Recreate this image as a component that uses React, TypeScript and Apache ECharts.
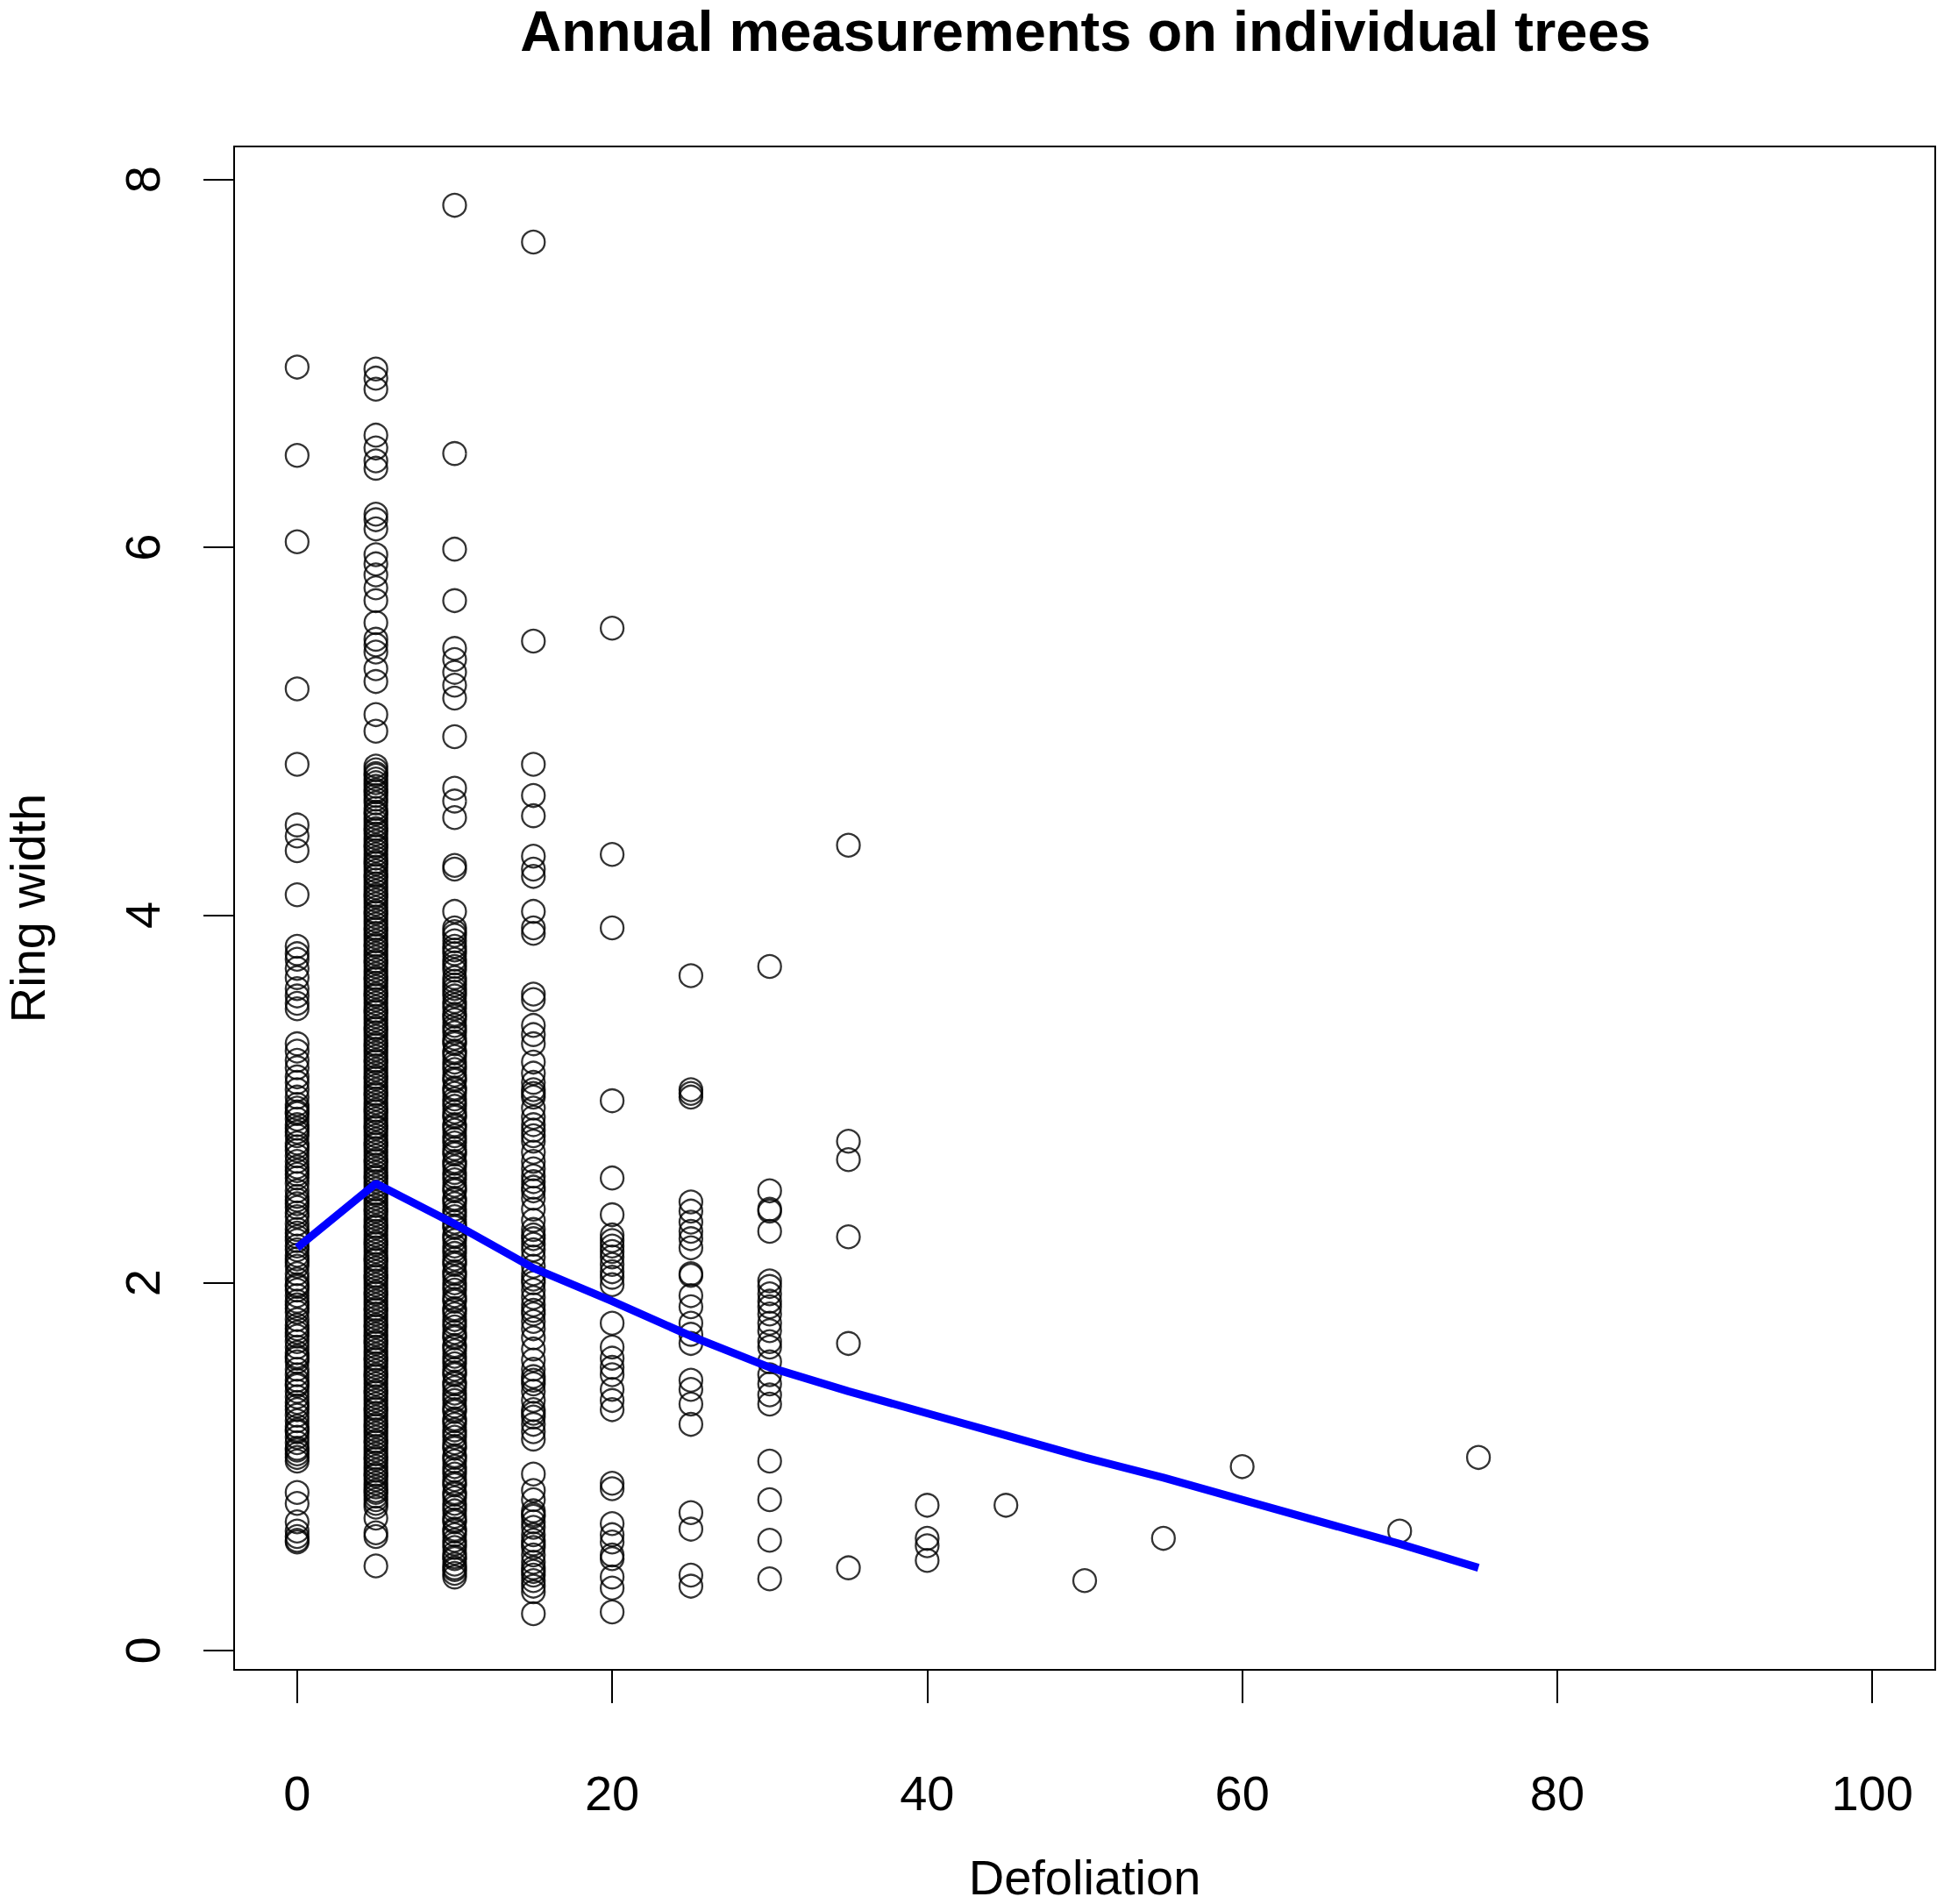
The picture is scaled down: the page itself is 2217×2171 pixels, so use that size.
import React, { useEffect, useRef } from "react";
import * as echarts from "echarts";

// Defoliation levels (x) and ring widths observed at each level (y)
const defoliationLevels = [0, 5, 10, 15, 20, 25, 30, 35, 40, 45, 50, 55, 60, 70, 75];

const ring0 = [6.98, 6.50, 6.03, 5.23, 4.82, 4.49, 4.43, 4.35, 4.11, 3.83, 3.79, 3.76, 3.71, 3.66, 3.60, 3.56, 3.52, 3.49,
  3.30, 3.26, 3.21, 3.17, 3.12, 3.09, 3.05, 3.01, 2.97, 2.95, 2.92, 2.89, 2.86, 2.82, 2.80, 2.76, 2.72, 2.69, 2.66, 2.63,
  2.61, 2.57, 2.54, 2.50, 2.47, 2.45, 2.41, 2.38, 2.36, 2.32, 2.29, 2.27, 2.23, 2.20, 2.18, 2.15, 2.11, 2.09, 2.05, 2.02,
  1.99, 1.96, 1.93, 1.90, 1.86, 1.84, 1.80, 1.77, 1.75, 1.71, 1.68, 1.65, 1.62, 1.59, 1.57, 1.53, 1.50, 1.47, 1.44, 1.41,
  1.38, 1.35, 1.31, 1.28, 1.25, 1.22, 1.19, 1.16, 1.13, 1.10, 1.07, 1.05, 1.03, 0.86, 0.80, 0.70, 0.65, 0.62, 0.60, 0.59,
  2.93, 2.84, 2.74, 2.59, 2.43, 2.25, 2.13, 1.98, 1.88, 1.73, 1.60, 1.45, 1.33, 1.20, 1.09];

const ring5 = [6.97, 6.92, 6.86, 6.61, 6.54, 6.47, 6.43, 6.18, 6.15, 6.10, 5.96, 5.91, 5.85, 5.78, 5.71, 5.59, 5.50, 5.47,
  5.43, 5.34, 5.27, 5.09, 5.00,
  4.81, 4.77, 4.76, 4.72, 4.68, 4.67, 4.63, 4.58, 4.56, 4.53, 4.49, 4.47, 4.44, 4.40, 4.38, 4.35, 4.31, 4.29, 4.26, 4.22,
  4.21, 4.17, 4.13, 4.11, 4.08, 4.04, 4.02, 3.99, 3.95, 3.93, 3.90, 3.86, 3.84, 3.81, 3.77, 3.75, 3.72, 3.68, 3.66, 3.63,
  3.59, 3.57, 3.54, 3.50, 3.48, 3.45, 3.41, 3.39, 3.36, 3.32, 3.30, 3.27, 3.23, 3.21, 3.18, 3.14, 3.12, 3.09, 3.05, 3.03,
  3.00, 2.96, 2.94, 2.91, 2.87, 2.85, 2.82, 2.78, 2.76, 2.73, 2.69, 2.67, 2.64, 2.60, 2.58, 2.55, 2.51, 2.49, 2.46, 2.42,
  2.40, 2.37, 2.33, 2.31, 2.28, 2.24, 2.22, 2.19, 2.15, 2.13, 2.10, 2.06, 2.04, 2.01, 1.97, 1.95, 1.92, 1.88, 1.86, 1.83,
  1.79, 1.77, 1.74, 1.70, 1.68, 1.65, 1.61, 1.59, 1.56, 1.52, 1.50, 1.47, 1.43, 1.41, 1.38, 1.34, 1.32, 1.29, 1.25, 1.23,
  1.20, 1.16, 1.14, 1.11, 1.07, 1.05, 1.02, 0.98, 0.96, 0.93, 0.89, 0.87, 0.84, 0.80, 0.78, 0.72, 0.64, 0.62, 0.46,
  4.79, 4.74, 4.70, 4.65, 4.61, 4.55, 4.51, 4.46, 4.42, 4.37, 4.33, 4.28, 4.24, 4.19, 4.15, 4.10, 4.06, 4.01, 3.97, 3.92,
  3.88, 3.83, 3.79, 3.74, 3.70, 3.65, 3.61, 3.56, 3.52, 3.47, 3.43, 3.38, 3.34, 3.29, 3.25, 3.20, 3.16, 3.11, 3.07, 3.02,
  2.98, 2.93, 2.89, 2.84, 2.80, 2.75, 2.71, 2.66, 2.62, 2.57, 2.53, 2.48, 2.44, 2.39, 2.35, 2.30, 2.26, 2.21, 2.17, 2.12,
  2.08, 2.03, 1.99, 1.94, 1.90, 1.85, 1.81, 1.76, 1.72, 1.67, 1.63, 1.58, 1.54, 1.49, 1.45, 1.40, 1.36, 1.31, 1.27, 1.22,
  1.18, 1.13, 1.09, 1.04, 1.00, 0.95, 0.91, 0.86, 0.82];

const ring10 = [7.86, 6.51, 5.99, 5.71, 5.45, 5.39, 5.32, 5.25, 5.18, 4.97, 4.69, 4.62, 4.53, 4.27, 4.25, 4.02,
  3.93, 3.89, 3.86, 3.83, 3.79, 3.76, 3.72, 3.70, 3.66, 3.62, 3.60, 3.56, 3.53, 3.49, 3.46, 3.43, 3.40, 3.36, 3.33, 3.30,
  3.26, 3.23, 3.20, 3.16, 3.13, 3.10, 3.06, 3.03, 3.00, 2.96, 2.93, 2.90, 2.86, 2.83, 2.80, 2.76, 2.73, 2.70, 2.66, 2.63,
  2.60, 2.56, 2.53, 2.50, 2.46, 2.43, 2.40, 2.36, 2.33, 2.30, 2.26, 2.23, 2.20, 2.16, 2.13, 2.10, 2.06, 2.03, 2.00, 1.96,
  1.93, 1.90, 1.86, 1.83, 1.80, 1.76, 1.73, 1.70, 1.66, 1.63, 1.60, 1.56, 1.53, 1.50, 1.46, 1.43, 1.40, 1.36, 1.33, 1.30,
  1.26, 1.23, 1.20, 1.16, 1.13, 1.10, 1.06, 1.03, 1.00, 0.96, 0.93, 0.90, 0.86, 0.83, 0.80, 0.76, 0.73, 0.70, 0.66, 0.63,
  0.60, 0.56, 0.53, 0.50, 0.47, 0.44, 0.42, 0.40,
  3.91, 3.81, 3.74, 3.64, 3.58, 3.51, 3.45, 3.38, 3.31, 3.25, 3.18, 3.11, 3.05, 2.98, 2.91, 2.85, 2.78, 2.71, 2.65, 2.58,
  2.51, 2.45, 2.38, 2.31, 2.25, 2.18, 2.11, 2.05, 1.98, 1.91, 1.85, 1.78, 1.71, 1.65, 1.58, 1.51, 1.45, 1.38, 1.31, 1.25,
  1.18, 1.11, 1.05, 0.98, 0.91, 0.85, 0.78, 0.71, 0.65, 0.58, 0.51, 0.45];

const ring15 = [7.66, 5.49, 4.82, 4.65, 4.54, 4.32, 4.25, 4.21, 4.02, 3.93, 3.90, 3.57, 3.54, 3.40, 3.35, 3.30,
  3.20, 3.14, 3.09, 3.05, 3.01, 2.95, 2.90, 2.86, 2.80, 2.77, 2.71, 2.66, 2.62, 2.58, 2.55, 2.50, 2.46, 2.40, 2.34, 2.29,
  2.24, 2.21, 2.18, 2.14, 2.09, 2.05, 2.00, 1.96, 1.92, 1.88, 1.83, 1.79, 1.75, 1.70, 1.64, 1.58, 1.53, 1.49, 1.45, 1.41,
  1.36, 1.31, 1.27, 1.23, 1.19, 1.15, 0.96, 0.87, 0.82, 0.76, 0.73, 0.70, 0.67, 0.63, 0.60, 0.56, 0.52, 0.48, 0.45, 0.41,
  0.38, 0.35, 0.32, 0.20, 3.03, 2.83, 2.52, 2.26, 2.02, 1.85, 1.47, 1.29, 0.74, 0.58, 0.43];

const ring20 = [5.56, 4.33, 3.93, 2.99, 2.57, 2.37, 2.26, 2.23, 2.20, 2.17, 2.14, 2.10, 2.06, 2.03, 1.99, 1.78, 1.65, 1.59,
  1.54, 1.50, 1.42, 1.36, 1.31, 0.91, 0.88, 0.69, 0.63, 0.59, 0.52, 0.50, 0.40, 0.34, 0.21];

const ring25 = [3.67, 3.05, 3.03, 3.01, 2.44, 2.39, 2.33, 2.28, 2.24, 2.19, 2.05, 2.04, 1.93, 1.87, 1.78, 1.72, 1.67, 1.47,
  1.42, 1.34, 1.23, 0.75, 0.66, 0.41, 0.35];

const ring30 = [3.72, 2.50, 2.40, 2.39, 2.28, 2.01, 1.98, 1.94, 1.90, 1.87, 1.83, 1.78, 1.74, 1.68, 1.65, 1.57, 1.50, 1.45,
  1.39, 1.34, 1.03, 0.82, 0.60, 0.39];

const ring35 = [4.38, 2.77, 2.67, 2.25, 1.67, 0.45];
const ring40 = [0.79, 0.61, 0.57, 0.49];
const ring45 = [0.79];
const ring50 = [0.38];
const ring55 = [0.61];
const ring60 = [1.00];
const ring70 = [0.65];
const ring75 = [1.05];

const ringByLevel = [ring0, ring5, ring10, ring15, ring20, ring25, ring30, ring35, ring40, ring45, ring50, ring55, ring60, ring70, ring75];

// Smoothed trend (blue line)
const trendX = [0, 5, 10, 15, 20, 25, 30, 35, 40, 45, 50, 55, 60, 70, 75];
const trendY = [2.19, 2.54, 2.32, 2.08, 1.90, 1.71, 1.54, 1.41, 1.29, 1.17, 1.05, 0.94, 0.82, 0.58, 0.45];

// Tick labels
const xTicks = [0, 20, 40, 60, 80, 100];
const yTicks = [0, 2, 4, 6, 8];

const FONT = "Liberation Sans, Arial, sans-serif";

export default function App() {
  const ref = useRef<HTMLDivElement>(null);

  useEffect(() => {
    if (!ref.current) return;
    const chart = echarts.init(ref.current, null, { renderer: "svg" });

    const points: number[][] = [];
    defoliationLevels.forEach((x, i) => {
      ringByLevel[i].forEach((y) => points.push([x, y]));
    });
    const trend = trendX.map((x, i) => [x, trendY[i]]);

    chart.setOption({
      animation: false,
      backgroundColor: "#ffffff",
      title: {
        text: "Annual measurements on individual trees",
        left: 1238,
        top: 3,
        padding: 0,
        textAlign: "center",
        textStyle: { fontFamily: FONT, fontSize: 65, fontWeight: "bold", color: "#000" },
      },
      grid: {
        left: 267,
        right: 10,
        top: 167,
        bottom: 267,
        show: true,
        borderColor: "#000",
        borderWidth: 2,
        backgroundColor: "transparent",
        containLabel: false,
        outerBoundsMode: "none",
      },
      xAxis: {
        type: "value",
        min: -4,
        max: 104,
        name: "Defoliation",
        nameLocation: "middle",
        nameGap: 208,
        nameTextStyle: { fontFamily: FONT, fontSize: 56, color: "#000" },
        axisLine: { show: false, onZero: false },
        splitLine: { show: false },
        axisTick: { show: true, inside: false, length: 38, customValues: xTicks, lineStyle: { color: "#000", width: 2 } },
        axisLabel: { show: true, customValues: xTicks, margin: 112, fontFamily: FONT, fontSize: 56, color: "#000" },
      },
      yAxis: {
        type: "value",
        min: -0.105,
        max: 8.18,
        name: "Ring width",
        nameLocation: "middle",
        nameGap: 208,
        nameTextStyle: { fontFamily: FONT, fontSize: 56, color: "#000" },
        axisLine: { show: false, onZero: false },
        splitLine: { show: false },
        axisTick: { show: true, inside: false, length: 35, customValues: yTicks, lineStyle: { color: "#000", width: 2 } },
        axisLabel: { show: true, customValues: yTicks, rotate: 90, margin: 77, fontFamily: FONT, fontSize: 56, color: "#000" },
      },
      series: [
        {
          type: "scatter",
          data: points,
          symbol: "circle",
          symbolSize: 26,
          silent: true,
          itemStyle: { color: "transparent", borderColor: "#000", borderWidth: 2.3 },
          z: 2,
        },
        {
          type: "line",
          data: trend,
          showSymbol: false,
          silent: true,
          lineStyle: { color: "#0000ff", width: 9 },
          z: 3,
        },
      ],
    });

    return () => chart.dispose();
  }, []);

  return (
    <div
      ref={ref}
      style={{ position: "absolute", left: 0, top: 0, width: 2217, height: 2171, background: "#fff" }}
    />
  );
}
